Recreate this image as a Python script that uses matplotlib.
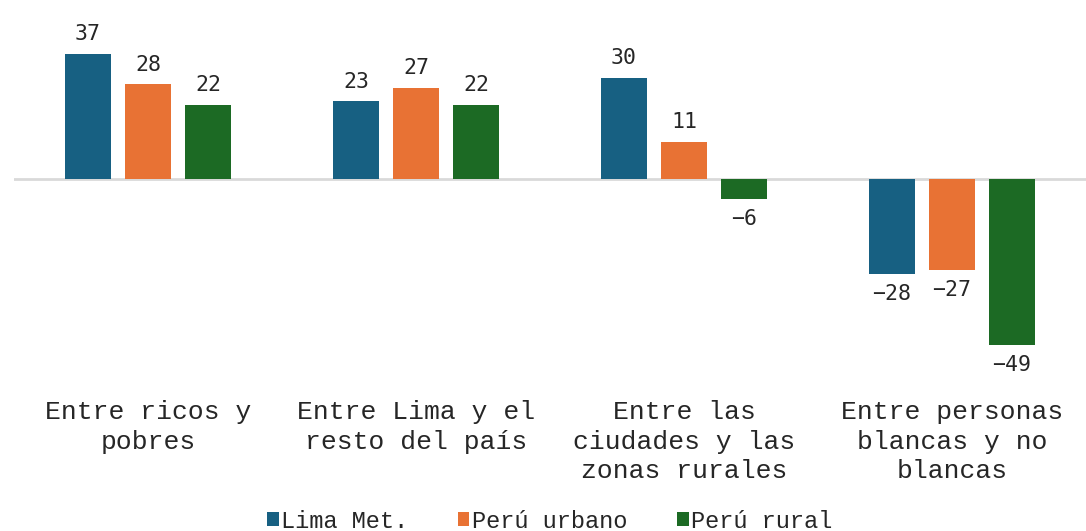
import numpy as np
import matplotlib
matplotlib.use("Agg")
import matplotlib.pyplot as plt
from matplotlib.patches import Patch

categories = [
    "Entre ricos y\npobres",
    "Entre Lima y el\nresto del país",
    "Entre las\nciudades y las\nzonas rurales",
    "Entre personas\nblancas y no\nblancas",
]
series_names = ["Lima Met.", "Perú urbano", "Perú rural"]
lima = [37, 23, 30, -28]
urbano = [28, 27, 11, -27]
rural = [22, 22, -6, -49]

colors = ["#176082", "#E87234", "#1C6A24"]

fig = plt.figure(figsize=(10.86, 5.31), dpi=100)
ax = fig.add_axes([14 / 1086, 1 - 382 / 531, 1 - 14 / 1086, 355 / 531])

x = np.arange(len(categories))
width = 0.175
step = 0.224

for k, (vals, col) in enumerate(zip([lima, urbano, rural], colors)):
    pos = x + (k - 1) * step
    ax.bar(pos, vals, width=width, color=col, label=series_names[k], zorder=2)
    for xp, v in zip(pos, vals):
        off = 7 if v >= 0 else -7
        va = "bottom" if v >= 0 else "top"
        ax.annotate(f"{v}".replace("-", "\u2212"), (xp, v), xytext=(0, off),
                    textcoords="offset points", ha="center", va=va,
                    fontsize=15.5, family="DejaVu Sans Mono", color="#262626",
                    annotation_clip=False)

ax.axhline(0, color="#D9D9D9", linewidth=2, zorder=1)
ax.set_xlim(-0.5, 3.5)
ax.set_ylim(-60, 45)
ax.set_yticks([])
ax.set_xticks(x)
ax.set_xticklabels(categories, fontsize=19, family="Liberation Mono",
                   linespacing=1.3, color="#262626")
ax.tick_params(axis="x", length=0, pad=13)
for s in ax.spines.values():
    s.set_visible(False)

handles = [Patch(facecolor=c, edgecolor="none") for c in colors]
leg = fig.legend(handles, series_names, loc="center", bbox_to_anchor=(0.506, 1 - 521 / 531),
                 ncol=3, frameon=False, handlelength=0.5, handleheight=0.55,
                 handletextpad=0.1, columnspacing=2.1,
                 prop={"family": "Liberation Mono", "size": 17})
for t in leg.get_texts():
    t.set_color("#262626")

fig.savefig("out.png", dpi=100)
